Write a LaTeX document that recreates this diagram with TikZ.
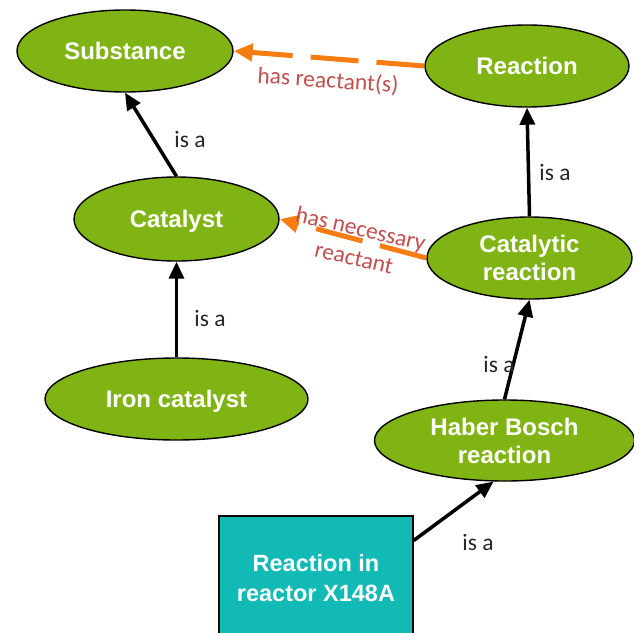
\documentclass[tikz,border=0pt]{standalone}
\usepackage{fontspec}
\setmainfont{Liberation Sans}
\newfontfamily\lblfont{Carlito}
\usetikzlibrary{shapes.geometric,arrows.meta}
\definecolor{concept}{RGB}{128,180,20}
\definecolor{instance}{RGB}{18,186,182}
\definecolor{relline}{RGB}{247,124,18}
\definecolor{reltext}{RGB}{192,80,77}
\tikzset{
  concept/.style={ellipse,draw=black,line width=1.4pt,fill=concept,inner sep=0pt,
    text depth=-4pt,text=white,font=\fontsize{24}{28}\selectfont\bfseries,align=center},
  instance/.style={rectangle,draw=black,line width=1.4pt,fill=instance,inner sep=0pt,
    text=white,font=\fontsize{23.5}{30}\selectfont\bfseries,align=center},
  isa/.style={line width=3.5pt,-{Triangle[length=17pt,width=15pt]}},
  isalabel/.style={font=\lblfont\fontsize{23.5}{27}\selectfont,text=black!85},
  relation/.style={relline,line width=5pt,dash pattern=on 48pt off 18pt,
    -{Triangle[length=19pt,width=17pt]}},
  rellabel/.style={font=\lblfont\fontsize{23.5}{30}\selectfont,text=reltext,align=center},
}
\begin{document}
\begin{tikzpicture}[x=1pt,y=-1pt]
\clip (0,0) rectangle (634,632);

% class hierarchy
\node[concept,minimum width=216pt,minimum height=82pt] (subst) at (125,51) {Substance};
\node[concept,minimum width=204pt,minimum height=82pt] (react) at (527,66) {Reaction};
\node[concept,minimum width=205pt,minimum height=84pt] (cat) at (176.5,219) {Catalyst};
\node[concept,minimum width=205pt,minimum height=82pt] (catreact) at (529.5,258) {Catalytic\\reaction};
\node[concept,minimum width=263pt,minimum height=82pt] (iron) at (176.5,399) {Iron catalyst};
\node[concept,minimum width=260pt,minimum height=81pt] (haber) at (504.5,440.5) {Haber Bosch\\reaction};

% individual
\node[instance,minimum width=194pt,minimum height=124pt] (x148) at (316,578) {Reaction in\\reactor X148A};

% "is a" links
\draw[isa] (cat.north) -- (subst.south);
\draw[isa] (iron.north) -- (cat.south);
\draw[isa] (catreact.north) -- (react.south);
\draw[isa] (haber.north) -- (catreact.south);
\draw[isa] (x148.21) -- (haber.255);

\node[isalabel] (l1) at (190,139) {is a};
\node[isalabel] (l2) at (210,318) {is a};
\node[isalabel] (l3) at (555,172) {is a};
\node[isalabel] (l4) at (499,364) {is a};
\node[isalabel] (l5) at (478,542) {is a};

% relations
\draw[relation] (react.west) -- (subst.east);
\draw[relation] (catreact.west) -- (cat.east);
\node[rellabel,rotate=-4] (r1) at (328,81) {has reactant(s)};
\node[rellabel,rotate=-13] (r2) at (357.5,243) {has necessary\\reactant};
\end{tikzpicture}
\end{document}
